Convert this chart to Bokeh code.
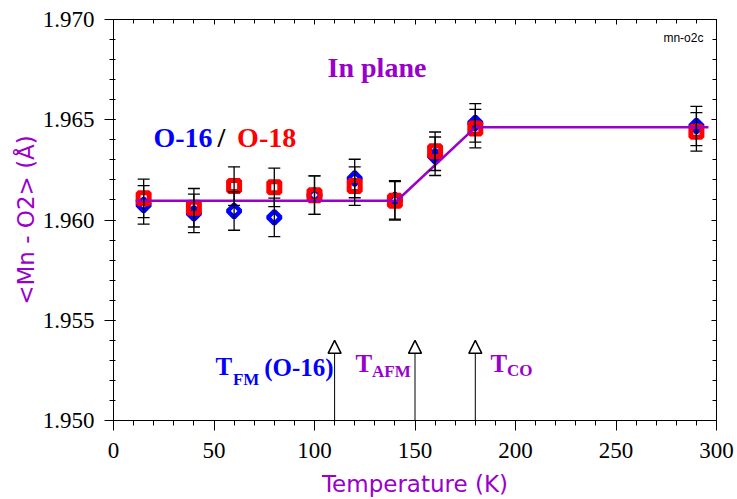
import numpy as np
from bokeh.plotting import figure
from bokeh.models import (ColumnDataSource, Whisker, Arrow, NormalHead, Label, LinearAxis,
                          Range1d, SingleIntervalTicker, PrintfTickFormatter, TeeHead,
                          CustomJSTickFormatter)
from bokeh.embed import file_html
from bokeh.resources import INLINE

# ---- data ----
temperature = [15, 40, 60, 80, 100, 120, 140, 160, 180, 290]
mn_o2_o16 = [1.96075, 1.96033, 1.96045, 1.96013, 1.96124, 1.96207, 1.96100, 1.96318, 1.96484, 1.96469]
mn_o2_o18 = [1.96108, 1.96061, 1.96169, 1.96163, 1.96124, 1.96169, 1.96096, 1.96343, 1.96456, 1.96440]
err_o16 = [0.00096, 0.00096, 0.00096, 0.00096, 0.00096, 0.00096, 0.00096, 0.00096, 0.00096, 0.00098]
err_o18 = [0.00096, 0.00096, 0.00096, 0.00096, 0.00096, 0.00096, 0.00096, 0.00096, 0.00096, 0.00096]
fit_temperature = [11, 141, 180, 296]
fit_distance = [1.96096, 1.96096, 1.96462, 1.96462]
transition_temperature = [110, 150, 180]

PURPLE = "#9900CC"
SERIF = "Liberation Serif"
SANS = "DejaVu Sans"

p = figure(width=737, height=499, output_backend="svg", toolbar_location=None,
           x_range=Range1d(0, 300), y_range=Range1d(1.950, 1.970),
           min_border_left=113, min_border_right=21, min_border_top=19, min_border_bottom=78)
p.background_fill_color = "white"
p.border_fill_color = "white"
p.outline_line_color = "black"
p.outline_line_width = 1
p.xgrid.visible = False
p.ygrid.visible = False

xa = p.xaxis[0]
xa.ticker = SingleIntervalTicker(interval=50, num_minor_ticks=5)
xa.axis_label = "Temperature (K)"
xa.axis_label_text_font = SANS
xa.axis_label_text_font_size = "23px"
xa.axis_label_text_font_style = "normal"
xa.axis_label_text_color = PURPLE
xa.axis_label_standoff = 10
xa.major_label_text_font = SERIF
xa.major_label_text_font_size = "23px"
xa.major_label_text_color = "black"
xa.major_label_standoff = 12
xa.major_tick_out = 10
xa.major_tick_in = 0
xa.minor_tick_out = 5
xa.minor_tick_in = 0
xa.axis_line_color = "black"
xa.major_tick_line_color = "black"
xa.minor_tick_line_color = "black"

ya = p.yaxis[0]
ya.ticker = SingleIntervalTicker(interval=0.005, num_minor_ticks=5)
ya.formatter = PrintfTickFormatter(format="%.3f")
ya.axis_label = "<Mn - O2> (Å)"
ya.axis_label_text_font = SANS
ya.axis_label_text_font_size = "23px"
ya.axis_label_text_font_style = "normal"
ya.axis_label_text_color = PURPLE
ya.axis_label_standoff = 1
ya.major_label_text_font = SERIF
ya.major_label_text_font_size = "23px"
ya.major_label_text_color = "black"
ya.major_label_standoff = 10
ya.major_tick_out = 9
ya.major_tick_in = 2
ya.minor_tick_out = 4
ya.minor_tick_in = 2
ya.axis_line_color = "black"
ya.major_tick_line_color = "black"
ya.minor_tick_line_color = "black"

blank = CustomJSTickFormatter(code="return ''")
top = LinearAxis(ticker=SingleIntervalTicker(interval=50, num_minor_ticks=5), formatter=blank,
                 major_tick_in=5, major_tick_out=0, minor_tick_in=4, minor_tick_out=0,
                 axis_line_color="black", major_label_standoff=0)
right = LinearAxis(ticker=SingleIntervalTicker(interval=0.005, num_minor_ticks=5), formatter=blank,
                   major_tick_in=5, major_tick_out=0, minor_tick_in=4, minor_tick_out=0,
                   axis_line_color="black", major_label_standoff=0)
p.add_layout(top, "above")
p.add_layout(right, "right")

src = ColumnDataSource(dict(
    t=temperature, d16=mn_o2_o16, d18=mn_o2_o18,
    lo16=[v - e for v, e in zip(mn_o2_o16, err_o16)],
    hi16=[v + e for v, e in zip(mn_o2_o16, err_o16)],
    lo18=[v - e for v, e in zip(mn_o2_o18, err_o18)],
    hi18=[v + e for v, e in zip(mn_o2_o18, err_o18)],
))

# markers: O-16 blue diamonds, O-18 red squares
p.scatter("t", "d16", source=src, marker="square", angle=np.pi / 4, size=9,
          fill_color=None, line_color="#0000FF", line_width=4.5)
p.scatter("t", "d18", source=src, marker="square", size=11,
          fill_color=None, line_color="#FF0000", line_width=5)

# fit line
p.line(fit_temperature, fit_distance, line_color=PURPLE, line_width=2.5)

# error bars
for lo, hi in (("lo16", "hi16"), ("lo18", "hi18")):
    w = Whisker(base="t", lower=lo, upper=hi, source=src, level="annotation",
                line_color="black", line_width=1.3,
                upper_head=TeeHead(size=12, line_color="black", line_width=1.3),
                lower_head=TeeHead(size=12, line_color="black", line_width=1.3))
    p.add_layout(w)

# transition arrows
arr_src = ColumnDataSource(dict(x0=transition_temperature, y0=[1.950] * 3,
                                x1=transition_temperature, y1=[1.9540] * 3))
p.add_layout(Arrow(source=arr_src, x_start="x0", y_start="y0", x_end="x1", y_end="y1",
                   line_color="black", line_width=1,
                   end=NormalHead(size=13, fill_color="white", line_color="black", line_width=1.5)))

def lab(x, y, text, color, size, font=SERIF, style="bold", align="left"):
    p.add_layout(Label(x=x, y=y, text=text, text_color=color, text_font=font,
                       text_font_size=size, text_font_style=style, text_align=align,
                       text_baseline="alphabetic"))

lab(106.5, 1.96761, "In plane", PURPLE, "28px")
lab(19.9, 1.96413, "O-16", "#0000FF", "28px")
lab(51.7, 1.96413, "/", "black", "28px")
lab(61.5, 1.96413, "O-18", "#FF0000", "28px")

lab(50.7, 1.95271, "T", "#0000FF", "25px")
lab(59.4, 1.95204, "FM", "#0000FF", "17px")
lab(75.0, 1.95264, "(O-16)", "#0000FF", "25px")
lab(120.4, 1.95284, "T", PURPLE, "25px")
lab(128.6, 1.95244, "AFM", PURPLE, "17px")
lab(187.6, 1.95286, "T", PURPLE, "25px")
lab(195.8, 1.95249, "CO", PURPLE, "17px")

lab(293.5, 1.96906, "mn-o2c", "black", "12px", font="Liberation Sans", style="normal", align="right")

open("out.html", "w").write(file_html(p, INLINE))
